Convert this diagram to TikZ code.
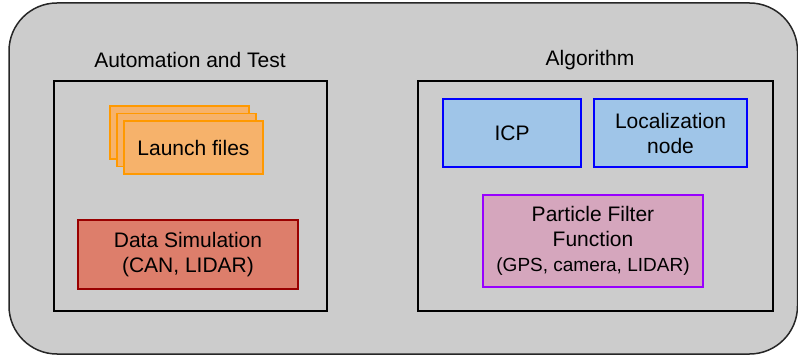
\documentclass[tikz,border=0pt]{standalone}
\usepackage{fontspec}
\setmainfont{Liberation Sans}
\definecolor{panelgray}{HTML}{CCCCCC}
\definecolor{launchfill}{HTML}{F6B26B}
\definecolor{launchline}{HTML}{FF9900}
\definecolor{simfill}{HTML}{DD7E6B}
\definecolor{simline}{HTML}{990000}
\definecolor{algfill}{HTML}{9FC5E8}
\definecolor{algline}{HTML}{0000FF}
\definecolor{pffill}{HTML}{D5A6BD}
\definecolor{pfline}{HTML}{9900FF}
\newcommand\smallsz{\fontsize{19}{23}\selectfont}
\tikzset{
  x=1pt, y=-1pt,
  bodytext/.style={font=\fontsize{21}{25}\selectfont, align=center, text=black},
  titletext/.style={bodytext, inner sep=0pt},
  box/.style={bodytext, rectangle, inner sep=0pt, line width=1.2pt},
  groupbox/.style={draw=black, line width=1.4pt, fill=none},
  launchbox/.style={box, draw=launchline, fill=launchfill, line width=1.4pt,
    minimum width=139pt, minimum height=53pt},
  simbox/.style={box, draw=simline, fill=simfill, minimum width=220pt, minimum height=69pt},
  algbox/.style={box, draw=algline, fill=algfill, minimum height=68pt},
  pfbox/.style={box, draw=pfline, fill=pffill, minimum width=220pt, minimum height=92pt},
}
\begin{document}
\begin{tikzpicture}
  \useasboundingbox (0,0) rectangle (798,358);
  % outer rounded panel
  \draw[fill=panelgray, draw=black!85, line width=1.5pt, rounded corners=48pt]
    (9,3) rectangle (797.5,354);

  % left group: automation and test
  \node[titletext] (tAuto) at (190,60) {Automation and Test};
  \draw[groupbox] (54,81) rectangle (327,311);
  % stacked launch-file sheets
  \node[launchbox] (launch3) at (179.5,132.5) {};
  \node[launchbox] (launch2) at (186.5,140) {};
  \node[launchbox] (launch) at (193.5,147.5) {Launch files};
  \node[simbox] (sim) at (188,254.5) {Data Simulation\\(CAN, LIDAR)};

  % right group: algorithm
  \node[titletext] (tAlg) at (590,60) {Algorithm};
  \draw[groupbox] (418,81) rectangle (773,311);
  \node[algbox, minimum width=138pt] (icp) at (512,133) {ICP};
  \node[algbox, minimum width=153pt] (loc) at (670.5,133) {Localization\\node};
  \node[pfbox] (pf) at (593,241) {Particle Filter\\Function\\{\smallsz(GPS, camera, LIDAR)}};
\end{tikzpicture}
\end{document}
